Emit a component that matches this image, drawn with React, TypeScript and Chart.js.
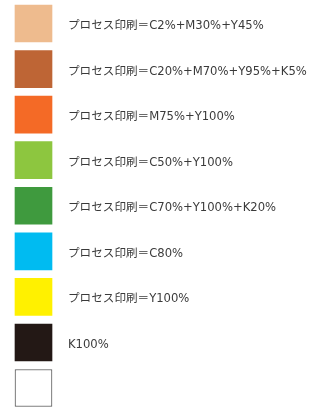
import React, { useEffect, useRef } from "react";
import { Chart, registerables } from "chart.js";

Chart.register(...registerables);

const swatchLabels = [
  "プロセス印刷＝C2%+M30%+Y45%",
  "プロセス印刷＝C20%+M70%+Y95%+K5%",
  "プロセス印刷＝M75%+Y100%",
  "プロセス印刷＝C50%+Y100%",
  "プロセス印刷＝C70%+Y100%+K20%",
  "プロセス印刷＝C80%",
  "プロセス印刷＝Y100%",
  "K100%",
  "",
];

const swatchValues = [1, 1, 1, 1, 1, 1, 1, 1, 1];

const swatchColors = [
  "#EEBB8E",
  "#BE6535",
  "#F46A26",
  "#8DC63F",
  "#3F9A3E",
  "#00BBF1",
  "#FFF100",
  "#231815",
  "#FFFFFF",
];

const swatchBorderWidths = [0, 0, 0, 0, 0, 0, 0, 0, 1];
const swatchBorderColors = ["#FFF", "#FFF", "#FFF", "#FFF", "#FFF", "#FFF", "#FFF", "#FFF", "#555555"];

export default function App() {
  const ref = useRef<HTMLCanvasElement | null>(null);

  useEffect(() => {
    if (!ref.current) return;
    const chart = new Chart(ref.current, {
      type: "bar",
      data: {
        labels: swatchLabels,
        datasets: [
          {
            data: swatchValues,
            backgroundColor: swatchColors,
            borderColor: swatchBorderColors,
            borderWidth: swatchBorderWidths,
            borderSkipped: false,
            barThickness: 37,
            clip: false,
          } as any,
        ],
      },
      options: {
        indexAxis: "y",
        animation: false,
        responsive: true,
        maintainAspectRatio: false,
        layout: { padding: { left: 15, top: 23.5, bottom: 18.5, right: 0 } },
        plugins: { legend: { display: false }, tooltip: { enabled: false } },
        scales: {
          x: { display: false, min: 0, max: 1 },
          y: {
            type: "category",
            position: "right",
            offset: false,
            grid: { display: false, drawTicks: false },
            border: { display: false },
            ticks: {
              autoSkip: false,
              padding: 16,
              labelOffset: 2.5,
              color: "#3a3a3a",
              font: { size: 11.6, family: "'DejaVu Sans', 'Noto Sans CJK JP', sans-serif" },
            },
            afterFit: (scale: any) => {
              scale.width = 313 - 52;
            },
          },
        },
      },
    });
    return () => chart.destroy();
  }, []);

  return (
    <div style={{ position: "absolute", left: 0, top: 0, width: 313, height: 411, background: "#fff" }}>
      <canvas ref={ref} />
    </div>
  );
}
